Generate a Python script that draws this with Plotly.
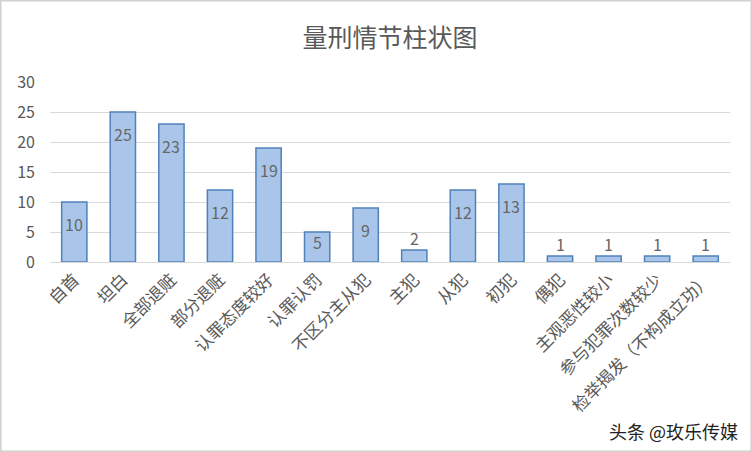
import plotly.graph_objects as go

categories = ["自首", "坦白", "全部退赃", "部分退赃", "认罪态度较好", "认罪认罚", "不区分主从犯",
              "主犯", "从犯", "初犯", "偶犯", "主观恶性较小", "参与犯罪次数较少", "检举揭发（不构成立功）"]
values = [10, 25, 23, 12, 19, 5, 9, 2, 12, 13, 1, 1, 1, 1]
y_ticks = [0, 5, 10, 15, 20, 25, 30]

font_family = "Noto Sans CJK SC, Noto Sans, sans-serif"
gray = "#595959"
label_gray = "#666666"

W, H = 752, 452
L, R, T, B = 50, 22, 82, 190
PW, PH = W - L - R, H - T - B

fig = go.Figure(go.Bar(
    x=categories, y=values,
    marker=dict(color="#a9c6ea", line=dict(color="#5082ba", width=1.5)),
    hoverinfo="x+y",
))

# value labels: inside near the top for tall bars, just above for short ones
for c, v in zip(categories, values):
    if v >= 8:
        fig.add_annotation(x=c, y=v, text=str(v), showarrow=False, yanchor="middle",
                           yshift=-22, font=dict(size=16, color=label_gray, family=font_family))
    elif v >= 5:
        fig.add_annotation(x=c, y=v, text=str(v), showarrow=False, yanchor="middle",
                           yshift=-10, font=dict(size=16, color=label_gray, family=font_family))
    else:
        fig.add_annotation(x=c, y=v, text=str(v), showarrow=False, yanchor="bottom",
                           yshift=-2, font=dict(size=16, color=label_gray, family=font_family))

fig.update_layout(
    width=W, height=H,
    margin=dict(l=L, r=R, t=T, b=B),
    paper_bgcolor="white", plot_bgcolor="white",
    bargap=0.48,
    showlegend=False,
    title=dict(text="量刑情节柱状图", x=0.5, xref="paper", xanchor="center",
               y=1 - 38 / H, yref="container", yanchor="middle",
               font=dict(size=25, color=gray, family=font_family)),
    font=dict(family=font_family, color=gray),
)

fig.update_xaxes(tickangle=-45, tickfont=dict(size=17, color=gray, family=font_family),
                 showgrid=False, showline=True, linecolor="#d9d9d9", linewidth=1,
                 ticks="", automargin=False)
fig.update_yaxes(range=[0, 30], tickvals=y_ticks, showgrid=True, gridcolor="#d9d9d9",
                 gridwidth=1, zeroline=False, showline=False, ticks="",
                 tickfont=dict(size=16, color=gray, family=font_family), automargin=False,
                 ticklabelstandoff=14)

fig.add_annotation(text="头条 @玫乐传媒", xref="paper", yref="paper",
                   x=(740 - L) / PW, y=(T + PH - 431) / PH, xanchor="right", yanchor="middle",
                   showarrow=False, font=dict(size=18, color="#222222", family=font_family))

fig.add_shape(type="rect", xref="paper", yref="paper",
              x0=-L / PW, x1=1 + R / PW, y0=-B / PH, y1=1 + T / PH,
              line=dict(color="#d0d0d0", width=3), layer="below")

fig.write_html("out.html", config={"displayModeBar": False},
               post_script="document.body.style.margin='0';document.body.style.overflow='hidden';")
